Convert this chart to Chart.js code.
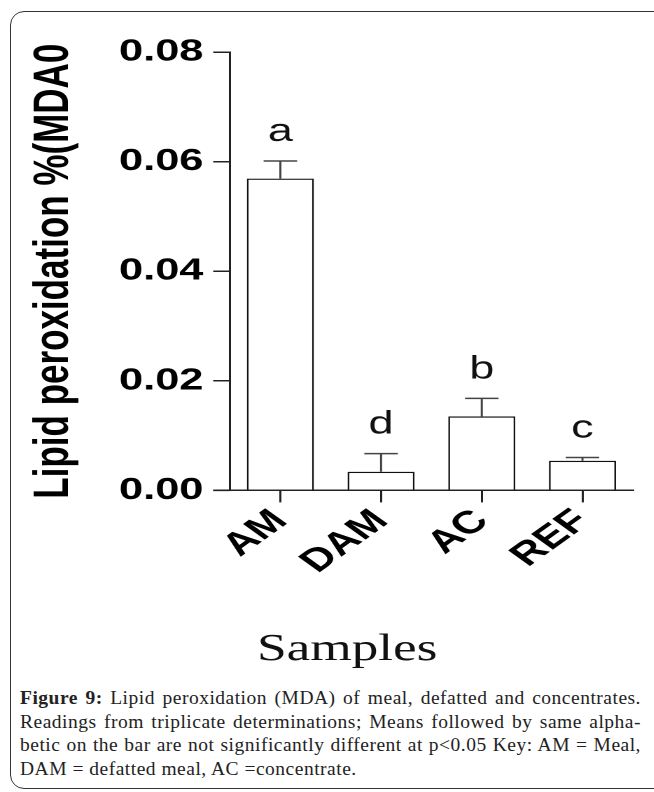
<!DOCTYPE html>
<html>
<head>
<meta charset="utf-8">
<script src="https://cdn.jsdelivr.net/npm/chart.js@4/dist/chart.umd.min.js"></script>
<style>
  html, body { margin: 0; padding: 0; background: #fff; overflow: hidden; }
  body { width: 654px; height: 792px; position: relative; }
  .frame {
    position: absolute; left: 10px; top: 11px; width: 700px; height: 778px;
    border: 1.5px solid #333; border-radius: 14px; box-sizing: border-box;
  }
  /* the figure in the paper is stretched sideways, so the chart is too */
  .chart-box {
    position: absolute; left: 0; top: 0; width: 467px; height: 680px;
    transform: scaleX(1.4); transform-origin: 0 0;
  }
  .caption {
    position: absolute; left: 20px; top: 686px; width: 621px;
    font-family: "Liberation Serif", "DejaVu Serif", serif; font-size: 19.5px;
    letter-spacing: 0.5px; line-height: 23.5px; color: #222;
  }
  .caption div { white-space: nowrap; text-align: justify; text-align-last: justify; }
  .caption div.last { text-align-last: left; }
</style>
</head>
<body>
<div class="frame"></div>
<div class="chart-box"><canvas id="lipid-chart"></canvas></div>
<div class="caption">
  <div><b>Figure 9:</b> Lipid peroxidation (MDA) of meal, defatted and concentrates.</div>
  <div>Readings from triplicate determinations; Means followed by same alpha-</div>
  <div>betic on the bar are not significantly different at p&lt;0.05 Key: AM = Meal,</div>
  <div class="last">DAM = defatted meal, AC =concentrate.</div>
</div>
<script>
const categories = ["AM", "DAM", "AC", "REF"];
const meanValues = [0.0569, 0.0034, 0.0135, 0.0054];
const errorValues = [0.0032, 0.0033, 0.0033, 0.0006];
const groupLetters = ["a", "d", "b", "c"];
const yTickValues = [0, 0.02, 0.04, 0.06, 0.08];

const errorBarsAndLetters = {
    id: 'errorBarsAndLetters',
    afterDatasetsDraw(chart) {
        const ctx = chart.ctx;
        const y = chart.scales.y;
        const meta = chart.getDatasetMeta(0);
        ctx.save();
        meta.data.forEach((bar, i) => {
            const top = y.getPixelForValue(meanValues[i] + errorValues[i]);
            const half = bar.width / 4;
            ctx.strokeStyle = '#444';
            ctx.lineWidth = 1.5;
            ctx.beginPath();
            ctx.moveTo(bar.x, bar.y);
            ctx.lineTo(bar.x, top);
            ctx.moveTo(bar.x - half, top);
            ctx.lineTo(bar.x + half, top);
            ctx.stroke();

            ctx.fillStyle = '#111';
            ctx.font = '32px "Liberation Sans", Arial, sans-serif';
            ctx.textAlign = 'center';
            ctx.textBaseline = 'alphabetic';
            ctx.fillText(groupLetters[i], bar.x, top - 20);
        });
        // x axis line runs on past the y axis, as long as a tick
        const area = chart.chartArea;
        ctx.strokeStyle = '#222';
        ctx.lineWidth = 1.5;
        ctx.beginPath();
        ctx.moveTo(area.left - 12, y.getPixelForValue(0));
        ctx.lineTo(area.left, y.getPixelForValue(0));
        ctx.stroke();
        ctx.restore();
    }
};

new Chart(document.getElementById('lipid-chart'), {
    type: 'bar',
    data: {
        labels: categories,
        datasets: [{
            data: meanValues,
            backgroundColor: '#fff',
            borderColor: '#111',
            borderWidth: 1.3,
            barPercentage: 0.666,
            categoryPercentage: 1
        }]
    },
    options: {
        responsive: true,
        maintainAspectRatio: false,
        animation: false,
        devicePixelRatio: 2,
        layout: { padding: { left: 44, right: 15, top: 52, bottom: 7 } },
        plugins: {
            legend: { display: false },
            tooltip: { enabled: false },
            title: {
                display: true,
                position: 'bottom',
                text: 'Samples',
                color: '#111',
                font: { family: '"Liberation Serif", "Times New Roman", serif', size: 38, weight: 'normal', lineHeight: 1.2 },
                padding: { top: 42, bottom: 0 }
            }
        },
        scales: {
            x: {
                afterFit: (scale) => { scale.height = 95; },
                grid: { display: true, drawOnChartArea: false, offset: false, tickLength: 12, color: '#222', lineWidth: 1.5 },
                border: { display: true, color: '#222', width: 1.5 },
                ticks: {
                    autoSkip: false, minRotation: 45, maxRotation: 45, padding: 0, color: '#000',
                    font: { family: '"Liberation Sans", Arial, sans-serif', size: 32, weight: 'bold' }
                }
            },
            y: {
                min: 0,
                max: 0.08,
                afterFit: (scale) => { scale.width = 120.3; },
                afterBuildTicks: (scale) => { scale.ticks = yTickValues.map(v => ({ value: v })); },
                grid: { display: true, drawOnChartArea: false, tickLength: 12, color: '#222', lineWidth: 1.5 },
                border: { display: true, color: '#222', width: 1.5 },
                ticks: {
                    padding: 7, color: '#000',
                    font: { family: '"Liberation Sans", Arial, sans-serif', size: 31, weight: 'bold' },
                    callback: (v) => Number(v).toFixed(2)
                },
                title: {
                    display: true,
                    text: 'Lipid peroxidation %(MDA0',
                    color: '#000',
                    font: { family: '"Liberation Sans", Arial, sans-serif', size: 35, weight: 'bold', lineHeight: 1.2 },
                    padding: { top: -26, bottom: 0 }
                }
            }
        }
    },
    plugins: [errorBarsAndLetters]
});
</script>
</body>
</html>
